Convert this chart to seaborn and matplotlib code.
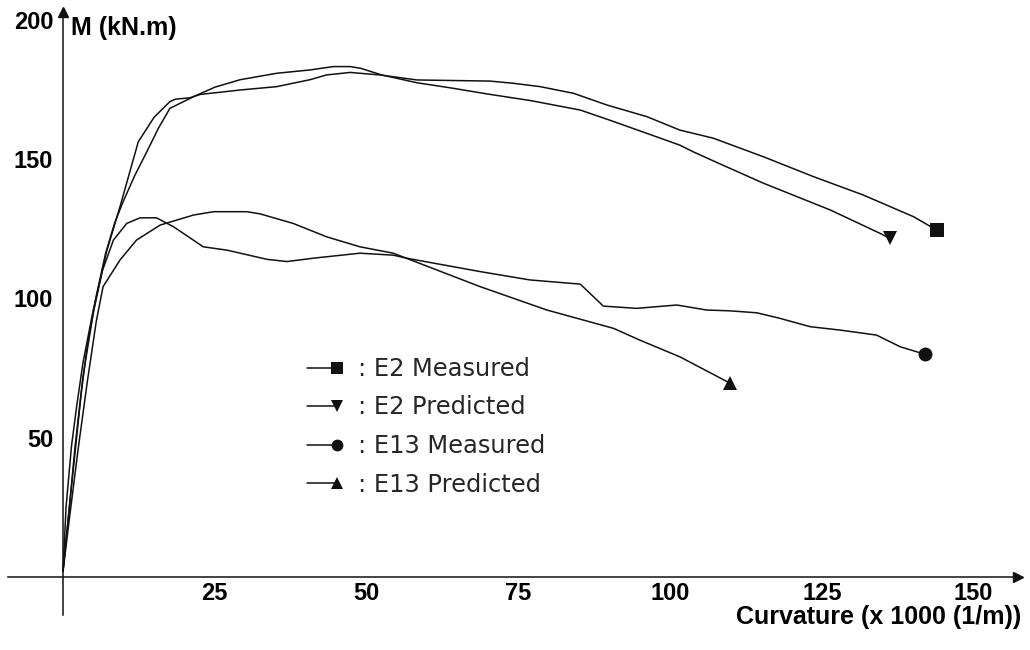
import numpy as np
import pandas as pd
import matplotlib
matplotlib.use("Agg")
import matplotlib.pyplot as plt
import seaborn as sns
from matplotlib.lines import Line2D
from matplotlib.legend_handler import HandlerLine2D
from matplotlib.ticker import MultipleLocator

# ---------------- data ----------------
series_names = ["E2 Measured", "E2 Predicted", "E13 Measured", "E13 Predicted"]
series_markers = ["s", "v", "o", "^"]

e2m_x = [0, 0.5, 1.4, 2.3, 3.3, 5.0, 7.2, 9.4, 12.4, 15.0, 17.6, 18.5, 20.9, 22.6,
         29.2, 35.2, 40.7, 43.4, 47.3, 52.2, 58.3, 70.3, 74.2, 78.6, 84.1, 89.6,
         96.2, 101.6, 107.1, 115.4, 123.6, 131.8, 140.1, 143.9]
e2m_y = [2, 25, 47, 62, 77, 96, 117, 133, 156.2, 165, 170.6, 171.5, 172.0, 173.2,
         174.8, 176.0, 178.5, 180.2, 181.1, 180.2, 178.4, 178.0, 177.2, 176.0, 173.6, 169.4,
         165.2, 160.4, 157.5, 150.8, 143.7, 137.1, 129.3, 124.5]

e2p_x = [0, 1.0, 2.0, 3.0, 4.0, 5.5, 7.0, 8.5, 9.9, 11.8, 13.8, 15.7, 17.6, 21.5,
         25.0, 29.2, 35.2, 40.7, 44.5, 47.3, 49.0, 52.5, 58.3, 64.3, 69.8, 77.0,
         85.2, 90.0, 96.2, 101.6, 103.8, 109.0, 115.4, 126.4, 134.6, 136.2]
e2p_y = [2, 24, 45, 66, 83, 101, 116, 127, 134.7, 144, 152.6, 161, 168.2, 172.4,
         175.8, 178.5, 180.8, 182.0, 183.2, 183.2, 182.6, 180.2, 177.4, 175.4, 173.4, 171.0,
         167.6, 164.0, 159.2, 155.0, 152.6, 147.5, 141.3, 131.7, 123.3, 121.5]

e13m_x = [0, 1.0, 2.0, 3.3, 5.0, 6.5, 8.3, 10.5, 12.7, 15.4, 18.2, 23.1, 27.0, 33.6,
          36.9, 41.2, 48.9, 54.4, 56.6, 68.7, 76.9, 85.2, 89.0, 94.5, 101.1, 106.0,
          109.9, 114.3, 118.1, 123.1, 128.0, 134.0, 137.9, 142.0]
e13m_y = [2, 24, 47, 72, 95, 110, 120.9, 126.9, 128.9, 128.9, 125.7, 118.5, 117.3, 114.0,
          113.2, 114.4, 116.2, 115.5, 114.4, 109.6, 106.6, 105.1, 97.2, 96.4, 97.6, 95.8,
          95.5, 94.8, 92.8, 89.8, 88.6, 86.8, 82.6, 79.9]

e13p_x = [0, 1.0, 2.5, 4.0, 5.5, 6.6, 9.4, 12.1, 16.0, 21.5, 24.8, 30.3, 32.5, 37.9,
          43.4, 48.9, 54.4, 60.0, 68.7, 79.7, 90.7, 95.0, 101.6, 109.9]
e13p_y = [2, 20, 46, 70, 92, 104.2, 113.8, 120.9, 126.3, 129.9, 131.1, 131.1, 130.3, 126.9,
          122.1, 118.5, 116.2, 111.5, 104.2, 95.8, 89.2, 85.0, 79.0, 69.5]

x_ticks = [25, 50, 75, 100, 125, 150]
x_tick_labels = ["25", "50", "75", "100", "125", "150"]
y_ticks = [50, 100, 150, 200]
y_tick_labels = ["50", "100", "150", "200"]
x_label = "Curvature (x 1000 (1/m))"
y_label = "M (kN.m)"

frames = []
for name, xs, ys in zip(series_names,
                        [e2m_x, e2p_x, e13m_x, e13p_x],
                        [e2m_y, e2p_y, e13m_y, e13p_y]):
    frames.append(pd.DataFrame({"curvature": xs, "moment": ys, "series": name}))
df = pd.concat(frames, ignore_index=True)

# ---------------- style ----------------
sns.set_style("white")
plt.rcParams["font.family"] = ["Liberation Sans", "DejaVu Sans"]

W, H = 1030, 650
fig = plt.figure(figsize=(W / 100, H / 100), dpi=100)
ax = fig.add_axes([8 / W, 35 / H, 1010 / W, 603 / H])

ink = "#111111"
for name, m in zip(series_names, series_markers):
    sub = df[df["series"] == name]
    sns.lineplot(data=sub, x="curvature", y="moment", ax=ax, color=ink,
                 linewidth=1.1, marker=m, markevery=[-1], markersize=10,
                 markeredgewidth=0, estimator=None, sort=False, legend=False)

ax.set_xlim(-9.06, 157.3)
ax.set_ylim(-13.7, 202.8)

# axes through origin
for side in ["top", "right"]:
    ax.spines[side].set_visible(False)
ax.spines["left"].set_position(("data", 0))
ax.spines["bottom"].set_position(("data", 0))
for side in ["left", "bottom"]:
    ax.spines[side].set_linewidth(1.1)
    ax.spines[side].set_color(ink)
ax.plot(1, 0, ">", color=ink, ms=7, transform=ax.get_yaxis_transform(), clip_on=False)
ax.plot(0, 1, "^", color=ink, ms=7, transform=ax.get_xaxis_transform(), clip_on=False)

ax.set_xticks(x_ticks, labels=x_tick_labels)
ax.set_yticks(y_ticks, labels=y_tick_labels)
ax.xaxis.set_minor_locator(MultipleLocator(12.5))
ax.yaxis.set_minor_locator(MultipleLocator(25))
ax.tick_params(which="both", direction="in", color=ink, width=1.1)
ax.tick_params(which="major", length=5.5)
ax.tick_params(which="minor", length=3.5)
ax.tick_params(axis="x", which="major", pad=4)
ax.tick_params(axis="y", which="major", pad=7)
for lab in ax.get_xticklabels() + ax.get_yticklabels():
    lab.set_fontweight("bold")
    lab.set_fontsize(17)
    lab.set_color("black")

ax.set_xlabel("")
ax.set_ylabel("")
fig.text(1021 / W, 1 - 624 / H, x_label, ha="right", va="baseline",
         fontsize=18, fontweight="bold", color="black")
fig.text(71 / W, 1 - 35 / H, y_label, ha="left", va="baseline",
         fontsize=18, fontweight="bold", color="black")


class EndMarkerHandler(HandlerLine2D):
    def create_artists(self, legend, orig_handle, xdescent, ydescent, width,
                       height, fontsize, trans):
        arts = super().create_artists(legend, orig_handle, xdescent, ydescent,
                                      width, height, fontsize, trans)
        for a in arts:
            xd = np.asarray(a.get_xdata())
            if len(xd) == 3:
                a.set_markevery([2])
            elif len(xd) == 1:
                a.set_xdata([-xdescent + width])
        return arts


handles = [Line2D([], [], color=ink, lw=1.1, marker=m, ms=10, markeredgewidth=0)
           for m in series_markers]
labels = [": " + n for n in series_names]
ax.legend(handles, labels, handler_map={Line2D: EndMarkerHandler()},
          loc="upper left", bbox_to_anchor=(307 / W, 1 - 357 / H),
          bbox_transform=fig.transFigure, frameon=False, borderpad=0,
          borderaxespad=0, handlelength=1.25, handletextpad=0.85,
          labelspacing=0.6, markerscale=0.85,
          prop={"family": "DejaVu Sans", "size": 17.4})

fig.savefig("out.png", dpi=100)
